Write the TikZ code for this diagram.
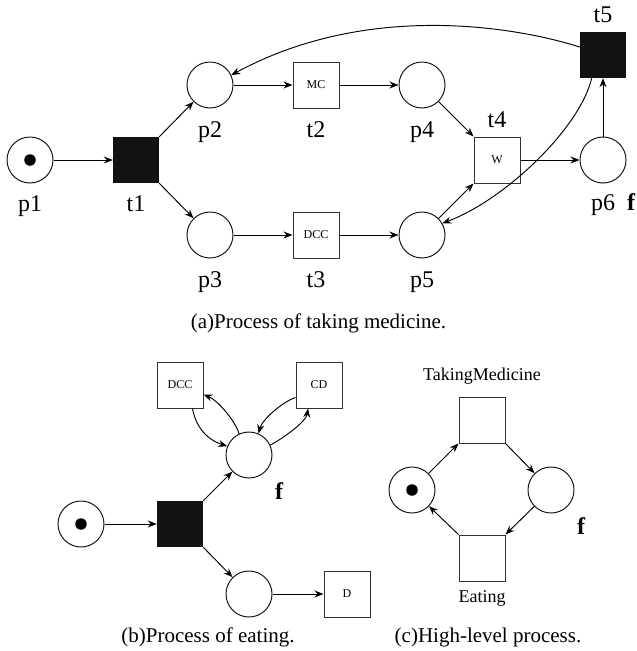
\documentclass[tikz,border=0pt]{standalone}
\usepackage{fontspec}
\setmainfont{Liberation Serif}
\usetikzlibrary{arrows.meta}
\begin{document}
\begin{tikzpicture}[x=1pt,y=-1pt,
  place/.style={circle,draw=black!90,line width=1pt,minimum size=46pt,inner sep=0pt},
  trans/.style={rectangle,draw=black!80,line width=1pt,minimum size=46pt,inner sep=0pt,font=\fontsize{12}{14}\selectfont},
  ftrans/.style={rectangle,fill=black!93,minimum size=46pt,inner sep=0pt},
  tok/.style={circle,fill=black,minimum size=11.5pt,inner sep=0pt},
  lab/.style={anchor=base,font=\fontsize{24}{28}\selectfont,inner sep=0pt},
  flab/.style={anchor=base west,font=\fontsize{24}{28}\selectfont\bfseries,inner sep=0pt},
  captxt/.style={anchor=base,font=\fontsize{21}{25}\selectfont,inner sep=0pt},
  tlab/.style={anchor=base,font=\fontsize{18}{22}\selectfont,inner sep=0pt},
  arr/.style={-{Stealth[length=9pt,width=7pt,inset=3pt]},line width=0.95pt}]
\useasboundingbox (0,0) rectangle (637,651);

% ---------- (a) ----------
\node[place] (p1) at (30,160) {};
\node[tok] (p1tok) at (30,160) {};
\node[ftrans] (t1) at (136,160) {};
\node[place] (p2) at (210,85) {};
\node[place] (p3) at (210,235) {};
\node[trans] (t2) at (316,85) {MC};
\node[trans] (t3) at (316,235) {DCC};
\node[place] (p4) at (422,85) {};
\node[place] (p5) at (422,235) {};
\node[trans] (t4) at (497,160) {W};
\node[place] (p6) at (603,160) {};
\node[ftrans] (t5) at (603,55) {};

\node[lab] (lp1) at (30,211) {p1};
\node[lab] (lt1) at (136,211) {t1};
\node[lab] (lp2) at (210,137) {p2};
\node[lab] (lt2) at (316,137) {t2};
\node[lab] (lp4) at (422,137) {p4};
\node[lab] (lp3) at (210,287) {p3};
\node[lab] (lt3) at (316,287) {t3};
\node[lab] (lp5) at (422,287) {p5};
\node[lab] (lt4) at (497,127) {t4};
\node[lab] (lt5) at (603,22) {t5};
\node[lab] (lp6) at (603,210) {p6};
\node[flab] (fa) at (627,210) {f};

\draw[arr] (p1) -- (t1);
\draw[arr] (t1.north east) -- (p2);
\draw[arr] (t1.south east) -- (p3);
\draw[arr] (p2) -- (t2);
\draw[arr] (p3) -- (t3);
\draw[arr] (t2) -- (p4);
\draw[arr] (t3) -- (p5);
\draw[arr] (p4) -- (t4.north west);
\draw[arr] (p5) -- (t4.south west);
\draw[arr] (t4) -- (p6);
\draw[arr] (p6) -- (t5);
\draw[arr] (t5.161) .. controls (520,28) and (370,0) .. (p2.25);
\draw[arr] (t5.244) .. controls (580,128) and (505,200) .. (p5.30);

\node[captxt] (capa) at (318.5,328) {(a)Process of taking medicine.};

% ---------- (b) ----------
\node[place] (b1) at (81,524) {};
\node[tok] (b1tok) at (81,524) {};
\node[ftrans] (bt) at (180,524) {};
\node[place] (bf) at (249,455) {};
\node[place] (bl) at (249,594) {};
\node[trans] (bdcc) at (180,385) {DCC};
\node[trans] (bcd) at (319,385) {CD};
\node[trans] (bd) at (347,594) {D};
\node[flab] (fb) at (275,499) {f};

\draw[arr] (b1) -- (bt);
\draw[arr] (bt.north east) -- (bf);
\draw[arr] (bt.south east) -- (bl);
\draw[arr] (bl) -- (bd);
\draw[arr] (bdcc.-62) .. controls (196,428) and (208,440) .. (bf.158);
\draw[arr] (bf.115) .. controls (235,420) and (217,400) .. (bdcc.-22);
\draw[arr] (bcd.208) .. controls (282,402) and (262,420) .. (bf.66);
\draw[arr] (bf.25) .. controls (282,439) and (306,422) .. (bcd.-115);

\node[captxt] (capb) at (208,642) {(b)Process of eating.};

% ---------- (c) ----------
\node[place] (c1) at (412,490) {};
\node[tok] (c1tok) at (412,490) {};
\node[trans] (ctm) at (482,420) {};
\node[place] (cr) at (551,490) {};
\node[trans] (cea) at (482,558) {};
\node[tlab] (ltm) at (482,380) {TakingMedicine};
\node[tlab] (lea) at (482,602) {Eating};
\node[flab] (fc) at (577,534) {f};

\draw[arr] (c1) -- (ctm.south west);
\draw[arr] (ctm.south east) -- (cr);
\draw[arr] (cr) -- (cea.north east);
\draw[arr] (cea.north west) -- (c1);

\node[captxt] (capc) at (488,642) {(c)High-level process.};
\end{tikzpicture}
\end{document}
